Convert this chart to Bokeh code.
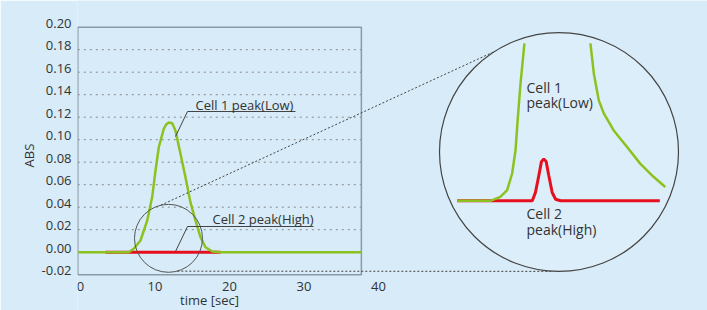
import numpy as np
from bokeh.plotting import figure
from bokeh.models import ColumnDataSource, Range1d, LinearAxis, FixedTicker, PrintfTickFormatter
from bokeh.core.properties import value
from bokeh.embed import file_html
from bokeh.resources import INLINE

# ---------------- data ----------------
time_ticks = [0, 10, 20, 30, 40]
abs_ticks = [-0.02, 0.00, 0.02, 0.04, 0.06, 0.08, 0.10, 0.12, 0.14, 0.16, 0.18, 0.20]

# Cell 1 (green) main trace
cell1_t = [-0.3, 6.48, 7.15, 8.05, 8.95, 9.62, 10.07, 10.51, 11.18, 11.5, 11.85, 12.31,
           12.75, 13.42, 14.09, 14.77, 15.44, 16.11, 16.78, 17.68, 18.79, 37.7]
cell1_abs = [0.0, 0.0, 0.003, 0.0104, 0.028, 0.049, 0.0726, 0.0933, 0.1097, 0.1135, 0.1153, 0.1147,
             0.108, 0.0875, 0.0667, 0.044, 0.028, 0.0133, 0.0044, 0.0006, 0.0, 0.0]

# Cell 2 (red) main trace
cell2_t = [3.36, 18.8]
cell2_abs = [0.0, 0.0]

# zoomed view (values in time / ABS units of the magnified window)
zoom_cell1_rise_t = [7.92, 9.19, 9.57, 9.83, 10.02, 10.15, 10.24, 10.34, 10.49]
zoom_cell1_rise_abs = [0.0, 0.0, 0.0010, 0.0027, 0.0069, 0.0128, 0.0212, 0.0296, 0.0398]
zoom_cell1_fall_t = [13.01, 13.14, 13.33, 13.52, 13.90, 14.41, 14.91, 15.43, 15.87]
zoom_cell1_fall_abs = [0.0398, 0.0322, 0.0254, 0.0221, 0.0178, 0.0136, 0.0094, 0.0060, 0.0035]
zoom_cell2_t = [7.92, 10.79, 10.91, 11.04, 11.14, 11.23, 11.32, 11.42, 11.55, 11.68, 11.87, 15.66]
zoom_cell2_abs = [0.0, 0.0, 0.0021, 0.0064, 0.0099, 0.0106, 0.0099, 0.0064, 0.0021, 0.0004, 0.0, 0.0]

label_cell1 = "Cell 1 peak(Low)"
label_cell2 = "Cell 2 peak(High)"
zoom_label_cell1 = ["Cell 1", "peak(Low)"]
zoom_label_cell2 = ["Cell 2", "peak(High)"]
x_title = "time [sec]"
y_title = "ABS"

# ---------------- layout / style ----------------
W, H = 707, 310
LEFT = 77
PX_PER_SEC = 7.45
PX_PER_ABS = 1125.0
PAGE_X0 = 80.0      # page x of t = 0
PAGE_Y0 = 251.7     # page y of ABS = 0
BG = "#d7ebf8"
GREEN = "#8cc21f"
RED = "#e60f1e"
TXT = "#333333"
FONT = value("Open Sans")

xs = (LEFT - PAGE_X0) / PX_PER_SEC
xe = xs + (W - LEFT) / PX_PER_SEC
ye = PAGE_Y0 / PX_PER_ABS
ys = ye - H / PX_PER_ABS


def to_t(px):
    return (px - PAGE_X0) / PX_PER_SEC


def to_a(py):
    return (PAGE_Y0 - py) / PX_PER_ABS


frame_l, frame_r = to_t(77.3), 37.7
frame_b, frame_t = abs_ticks[0], abs_ticks[-1]

# zoom geometry
t0, a0 = 11.81, 0.01234            # centre of the small circle (data)
r_small = 34.0                     # px
big_cx, big_cy, r_big = 558.5, 151.5, 119.5   # px
k = r_big / r_small
tc, ac = to_t(big_cx), to_a(big_cy)


def zmap(t, a):
    return tc + k * (np.asarray(t) - t0), ac + k * (np.asarray(a) - a0)


p = figure(width=W, height=H, x_range=Range1d(xs, xe), y_range=Range1d(ys, ye),
           x_axis_location=None, y_axis_location=None,
           output_backend="svg", toolbar_location=None,
           min_border_left=LEFT, min_border_right=0, min_border_top=0, min_border_bottom=0,
           background_fill_color=BG, border_fill_color=BG, outline_line_color=None)
p.grid.visible = False

# y axis (labels nudged 4px upward like the reference)
d = 4.0 / PX_PER_ABS
p.extra_y_ranges = {"ylab": Range1d(ys - d, ye - d)}
yax = LinearAxis(y_range_name="ylab", ticker=FixedTicker(ticks=abs_ticks),
                 formatter=PrintfTickFormatter(format="%.2f"),
                 axis_label=y_title)
yax.axis_line_color = None
yax.major_tick_line_color = None
yax.minor_tick_line_color = None
yax.major_tick_in = 0
yax.major_tick_out = 0
yax.major_label_standoff = 6
yax.major_label_text_font = "Open Sans"
yax.major_label_text_font_size = "13px"
yax.major_label_text_color = TXT
yax.axis_label_text_font = "Open Sans"
yax.axis_label_text_font_size = "13px"
yax.axis_label_text_font_style = "normal"
yax.axis_label_text_color = TXT
yax.axis_label_standoff = 1
p.add_layout(yax, "left")

# gridlines
grid_vals = abs_ticks[1:-1]
p.segment(x0=[frame_l] * len(grid_vals), x1=[frame_r] * len(grid_vals), y0=grid_vals, y1=grid_vals,
          line_color="#8a8a8a", line_width=1, line_dash="2 4")

# frame
p.quad(left=[frame_l], right=[frame_r], bottom=[frame_b], top=[frame_t],
       fill_color=None, line_color="#8b9aa6", line_width=1.5)

# main traces
p.line(cell2_t, cell2_abs, line_color=RED, line_width=3)
p.line(cell1_t, cell1_abs, line_color=GREEN, line_width=2.5)

# small circle
p.circle(x=[t0], y=[a0], radius=r_small / PX_PER_SEC, fill_color=None,
         line_color="#555555", line_width=1)

# connector lines (dashed), from small circle to big circle
def circ_pt(cx, cy, r, ang):
    return cx + r * np.cos(np.radians(ang)), cy - r * np.sin(np.radians(ang))

scx, scy = PAGE_X0 + t0 * PX_PER_SEC, PAGE_Y0 - a0 * PX_PER_ABS
for a_s, a_b in [(103, 123), (-75, -92.6)]:
    x1, y1 = circ_pt(scx, scy, r_small, a_s)
    x2, y2 = circ_pt(big_cx, big_cy, r_big, a_b)
    p.line([to_t(x1), to_t(x2)], [to_a(y1), to_a(y2)], line_color="#444444",
           line_width=1, line_dash="2 2")

# big circle
p.circle(x=[tc], y=[ac], radius=r_big / PX_PER_SEC, fill_color="#dceefa",
         line_color="#444444", line_width=1.2)

# zoomed traces
zx, zy = zmap(zoom_cell2_t, zoom_cell2_abs)
p.line(zx, zy, line_color=RED, line_width=3)
zx, zy = zmap(zoom_cell1_rise_t, zoom_cell1_rise_abs)
p.line(zx, zy, line_color=GREEN, line_width=2.5)
zx, zy = zmap(zoom_cell1_fall_t, zoom_cell1_fall_abs)
p.line(zx, zy, line_color=GREEN, line_width=2.5)

# annotations: leader lines
p.line([to_t(175), to_t(187), to_t(295)], [to_a(136), to_a(111), to_a(111)],
       line_color="#444444", line_width=1)
p.line([to_t(175), to_t(187), to_t(313)], [to_a(251), to_a(226), to_a(226)],
       line_color="#444444", line_width=1)

def txt(x, y, s, size="13px", align="left"):
    src = ColumnDataSource(dict(x=x, y=y, text=s))
    p.text(x="x", y="y", text="text", source=src, text_font=FONT, text_font_size=size,
           text_color=TXT, text_align=align, text_baseline="middle")

txt([to_t(195)], [to_a(104)], [label_cell1])
txt([to_t(212)], [to_a(218)], [label_cell2])
txt([to_t(526)] * 2, [to_a(86.7), to_a(101.7)], zoom_label_cell1, size="14px")
txt([to_t(526)] * 2, [to_a(213.3), to_a(229.3)], zoom_label_cell2, size="14px")

# x tick labels and title
txt(time_ticks, [to_a(286)] * len(time_ticks), [str(v) for v in time_ticks], align="center")
txt([to_t(209)], [to_a(299)], [x_title], align="center")

html = file_html(p, INLINE)
html = html.replace("<body>", '<body style="background-color:%s;">' % BG, 1)
open("out.html", "w").write(html)
